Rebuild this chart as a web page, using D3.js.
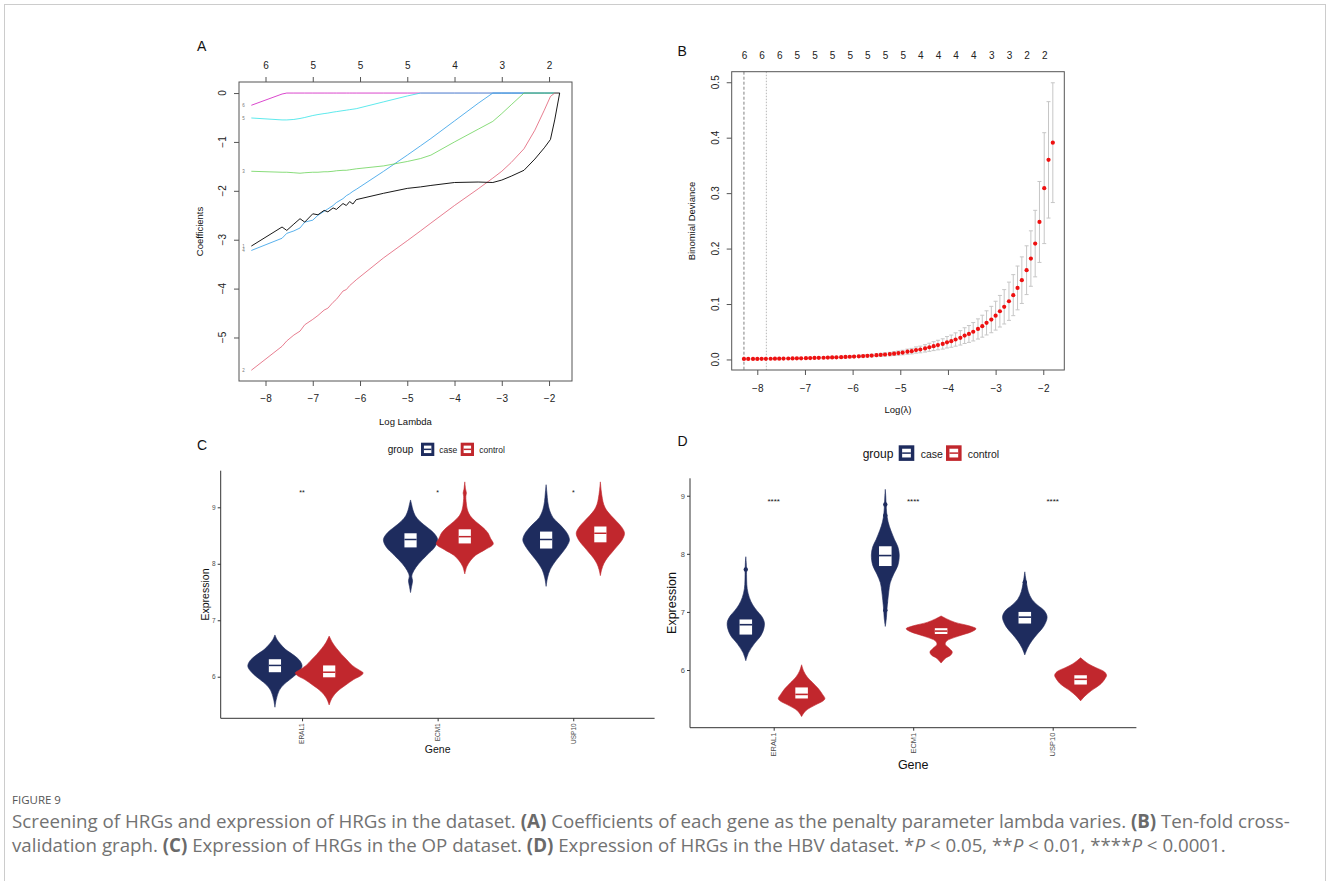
<!DOCTYPE html>
<meta charset="utf-8">
<script src="https://d3js.org/d3.v7.min.js"></script>
<style>body{margin:0;background:#fff}</style>
<svg id="fig" width="1328" height="881"></svg>
<script>
// ---------- panel A: coefficient paths ----------
const logLambdaA = [-8.30, -7.65, -7.55, -7.40, -7.27, -7.17, -7.00, -6.89, -6.76, -6.68, -6.57, -6.50,
  -6.36, -6.29, -6.22, -6.15, -6.08, -5.50, -5.00, -4.72, -4.50, -4.00, -3.50, -3.19, -3.00, -2.80,
  -2.53, -2.30, -2.10, -1.97, -1.88, -1.775];
const coef1 = [-3.13, -2.74, -2.81, -2.68, -2.57, -2.64, -2.47, -2.49, -2.40, -2.43, -2.35, -2.38,
  -2.26, -2.30, -2.22, -2.27, -2.18, -2.05, -1.95, -1.92, -1.89, -1.83, -1.82, -1.83, -1.78, -1.70,
  -1.58, -1.35, -1.12, -0.95, -0.55, 0];
const coef2 = [-5.67, -5.18, -5.07, -4.95, -4.87, -4.74, -4.63, -4.55, -4.44, -4.40, -4.28, -4.22,
  -4.05, -4.02, -3.94, -3.88, -3.82, -3.37, -3.02, -2.82, -2.66, -2.30, -1.96, -1.74, -1.60, -1.42,
  -1.14, -0.76, -0.35, -0.07, 0, 0];
const coef3 = [-1.60, -1.62, -1.62, -1.63, -1.64, -1.63, -1.62, -1.62, -1.61, -1.61, -1.60, -1.59,
  -1.58, -1.58, -1.57, -1.56, -1.55, -1.49, -1.40, -1.34, -1.27, -1.00, -0.74, -0.58, -0.42, -0.24,
  0, 0, 0, 0, 0, 0];
const coef4 = [-3.22, -2.97, -2.87, -2.82, -2.76, -2.64, -2.60, -2.50, -2.42, -2.37, -2.30, -2.24,
  -2.16, -2.10, -2.06, -2.01, -1.97, -1.60, -1.27, -1.08, -0.93, -0.57, -0.21, 0, 0, 0,
  0, 0, 0, 0, 0, 0];
const coef5 = [-0.51, -0.55, -0.55, -0.54, -0.52, -0.50, -0.46, -0.44, -0.42, -0.41, -0.39, -0.38,
  -0.36, -0.35, -0.34, -0.33, -0.32, -0.18, -0.06, 0, 0, 0, 0, 0, 0, 0,
  0, 0, 0, 0, 0, 0];
const coef6 = [-0.25, -0.02, 0, 0, 0, 0, 0, 0, 0, 0, 0, 0,
  0, 0, 0, 0, 0, 0, 0, 0, 0, 0, 0, 0, 0, 0,
  0, 0, 0, 0, 0, 0];
const ticksA = [-8, -7, -6, -5, -4, -3, -2];
const topA = ["6", "5", "5", "5", "4", "3", "2"];
const yTicksA = [0, -1, -2, -3, -4, -5];

// ---------- panel B: cross-validation ----------
const logLambdaB = [-8.28, -8.19, -8.09, -8.00, -7.91, -7.82, -7.72, -7.63, -7.54, -7.45, -7.35,
  -7.26, -7.17, -7.08, -6.98, -6.89, -6.80, -6.71, -6.61, -6.52, -6.43, -6.34, -6.24, -6.15, -6.06,
  -5.97, -5.87, -5.78, -5.69, -5.60, -5.50, -5.41, -5.32, -5.22, -5.13, -5.04, -4.95, -4.85, -4.76,
  -4.67, -4.58, -4.48, -4.39, -4.30, -4.21, -4.11, -4.02, -3.93, -3.84, -3.74, -3.65, -3.56, -3.47,
  -3.37, -3.28, -3.19, -3.09, -3.00, -2.91, -2.82, -2.72, -2.63, -2.54, -2.45, -2.35, -2.26, -2.17,
  -2.08, -1.98, -1.89, -1.80];
const devB = [0.0009, 0.0009, 0.0010, 0.0010, 0.0011, 0.0012, 0.0013, 0.0014, 0.0015, 0.0016, 0.0017,
  0.0018, 0.0020, 0.0021, 0.0023, 0.0025, 0.0027, 0.0029, 0.0031, 0.0034, 0.0036, 0.0039, 0.0042,
  0.0045, 0.0049, 0.0053, 0.0057, 0.0061, 0.0066, 0.0071, 0.0077, 0.0083, 0.0090, 0.0097, 0.0105,
  0.0115, 0.0125, 0.014, 0.015, 0.017, 0.018, 0.020, 0.022, 0.024, 0.026, 0.028, 0.031, 0.033, 0.036,
  0.039, 0.043, 0.046, 0.050, 0.055, 0.060, 0.066, 0.072, 0.079, 0.087, 0.095, 0.105, 0.116, 0.129,
  0.143, 0.161, 0.182, 0.209, 0.248, 0.309, 0.360, 0.391];
const seB = [0.0003, 0.0003, 0.0003, 0.0003, 0.0004, 0.0004, 0.0004, 0.0005, 0.0005, 0.0005, 0.0006,
  0.0006, 0.0007, 0.0007, 0.0008, 0.0008, 0.0009, 0.0010, 0.0010, 0.0011, 0.0012,
  0.0013, 0.0014, 0.0015, 0.0016, 0.0018, 0.0019, 0.0020, 0.0022, 0.0024, 0.0026,
  0.0028, 0.0030, 0.0032, 0.0035, 0.0038, 0.0041, 0.0046, 0.0050, 0.0056, 0.0060,
  0.0066, 0.0073, 0.0080, 0.0086, 0.0093, 0.0103, 0.0110, 0.0120, 0.0130, 0.0142,
  0.0152, 0.0166, 0.0182, 0.0198, 0.0218, 0.0238, 0.0260, 0.0285, 0.0310, 0.0345,
  0.0370, 0.0395, 0.0420, 0.0440, 0.0500, 0.0600, 0.0730, 0.1000, 0.1050, 0.1080];
const nzB = ["6", "6", "6", "5", "5", "5", "5", "5", "5", "5", "4", "4", "4", "4", "3", "3", "2", "2"];
const nzAtB = [-8.28, -7.91, -7.54, -7.17, -6.80, -6.43, -6.06, -5.69, -5.32, -4.95, -4.58, -4.21,
  -3.84, -3.47, -3.09, -2.72, -2.35, -1.98];
const lambdaMin = -8.28, lambda1se = -7.81;
const ticksB = [-8, -7, -6, -5, -4, -3, -2];
const yTicksB = [0, 0.1, 0.2, 0.3, 0.4, 0.5];

// ---------- panels C, D: violins ----------
const genes = ["ERAL1", "ECM1", "USP10"];
const groups = ["case", "control"];
// density profiles: [expression, half width]
const densC_case = [
  [[5.46,0],[5.6,0.01],[5.75,0.03],[5.85,0.06],[5.95,0.11],[6.05,0.16],[6.15,0.195],[6.2,0.2],[6.28,0.185],[6.38,0.14],[6.48,0.08],[6.58,0.04],[6.66,0.015],[6.74,0]],
  [[7.49,0],[7.6,0.008],[7.7,0.015],[7.78,0.009],[7.88,0.025],[8.0,0.06],[8.15,0.12],[8.3,0.18],[8.43,0.2],[8.55,0.17],[8.65,0.12],[8.75,0.07],[8.85,0.035],[8.95,0.018],[9.05,0.008],[9.13,0]],
  [[7.6,0],[7.75,0.01],[7.9,0.03],[8.05,0.07],[8.2,0.12],[8.32,0.155],[8.42,0.172],[8.52,0.16],[8.62,0.13],[8.72,0.09],[8.82,0.05],[8.95,0.025],[9.1,0.012],[9.25,0.006],[9.4,0]]
];
const densC_control = [
  [[5.5,0],[5.62,0.02],[5.74,0.06],[5.85,0.12],[5.95,0.18],[6.03,0.24],[6.07,0.25],[6.12,0.22],[6.2,0.17],[6.3,0.13],[6.4,0.09],[6.5,0.055],[6.6,0.025],[6.72,0]],
  [[7.82,0],[7.95,0.015],[8.05,0.04],[8.15,0.08],[8.25,0.15],[8.35,0.21],[8.45,0.19],[8.55,0.17],[8.65,0.13],[8.75,0.08],[8.85,0.04],[8.95,0.02],[9.1,0.01],[9.2,0.008],[9.25,0.012],[9.32,0.006],[9.45,0]],
  [[7.79,0],[7.9,0.01],[8.0,0.025],[8.1,0.05],[8.2,0.085],[8.3,0.12],[8.42,0.16],[8.54,0.178],[8.64,0.16],[8.75,0.12],[8.85,0.08],[8.95,0.045],[9.05,0.025],[9.15,0.015],[9.3,0.006],[9.45,0]]
];
const densD_case = [
  [[6.16,0],[6.3,0.02],[6.45,0.06],[6.6,0.11],[6.72,0.13],[6.82,0.133],[6.92,0.115],[7.02,0.08],[7.12,0.05],[7.25,0.025],[7.4,0.01],[7.55,0.006],[7.73,0.005],[7.85,0.003],[7.95,0]],
  [[6.75,0],[6.9,0.008],[7.05,0.012],[7.2,0.018],[7.35,0.025],[7.5,0.035],[7.65,0.06],[7.8,0.09],[7.98,0.1],[8.12,0.09],[8.25,0.065],[8.4,0.04],[8.55,0.02],[8.7,0.01],[8.85,0.006],[9.0,0.003],[9.11,0]],
  [[6.26,0],[6.38,0.02],[6.5,0.05],[6.62,0.09],[6.75,0.135],[6.91,0.16],[7.02,0.14],[7.12,0.09],[7.22,0.05],[7.35,0.025],[7.5,0.012],[7.6,0.005],[7.69,0]]
];
const densD_control = [
  [[5.2,0],[5.3,0.03],[5.4,0.1],[5.47,0.155],[5.51,0.167],[5.58,0.15],[5.68,0.12],[5.78,0.08],[5.88,0.04],[5.98,0.015],[6.09,0]],
  [[6.12,0],[6.2,0.03],[6.26,0.07],[6.31,0.08],[6.37,0.06],[6.44,0.03],[6.5,0.04],[6.58,0.12],[6.66,0.22],[6.71,0.25],[6.76,0.2],[6.82,0.1],[6.88,0.04],[6.93,0]],
  [[5.47,0],[5.55,0.03],[5.65,0.08],[5.75,0.14],[5.85,0.175],[5.91,0.186],[5.97,0.17],[6.04,0.11],[6.1,0.06],[6.16,0.025],[6.21,0]]
];
// boxes: [q1, median, q3]
const boxC_case = [[6.08, 6.20, 6.31], [8.29, 8.43, 8.54], [8.27, 8.43, 8.57]];
const boxC_control = [[5.99, 6.08, 6.20], [8.36, 8.48, 8.61], [8.38, 8.54, 8.66]];
const boxD_case = [[6.61, 6.78, 6.87], [7.79, 7.97, 8.13], [6.80, 6.91, 7.00]];
const boxD_control = [[5.51, 5.58, 5.70], [6.62, 6.67, 6.72], [5.75, 5.84, 5.91]];
const outD_case = [[7.73], [8.85, 8.66, 7.16, 7.03], [7.51]];
const outD_control = [[], [], []];
const outC_case = [[], [], []];
const outC_control = [[], [], []];
const sigC = ["**", "*", "*"], sigYC = 9.30;
const sigD = ["****", "****", "****"], sigYD = 8.94;
const yTicksCD = [6, 7, 8, 9];

const pathColors = ["#000000", "#DF536B", "#61D04F", "#2297E6", "#28E2E5", "#CD0BBC"];
const groupColors = ["#1e2c5e", "#c1272d"];
const FONT = "'Liberation Sans', Arial, sans-serif";

const svg = d3.select("#fig");
svg.append("rect").attr("x", 4.5).attr("y", 4.5).attr("width", 1321).attr("height", 900)
  .attr("fill", "none").attr("stroke", "#cccccc");

function label(g, txt, x, y, size, anchor) {
  return g.append("text").attr("x", x).attr("y", y).attr("font-size", size)
    .attr("text-anchor", anchor || "start").attr("fill", "#111").text(txt);
}
const fmtInt = d3.format("d");

// ================= Panel A =================
const xA = d3.scaleLinear().domain([-8.561, -1.514]).range([239, 572]);
const yA = d3.scaleLinear().domain([-5.89, 0.226]).range([381, 82]);
const gA = svg.append("g").attr("font-family", FONT);
const coefs = [coef1, coef2, coef3, coef4, coef5, coef6];
// draw order so black sits on top like R
[5, 4, 3, 2, 1, 0].forEach(i => {
  gA.append("path").datum(coefs[i])
    .attr("d", d3.line().x((d, j) => xA(logLambdaA[j])).y(d => yA(d)))
    .attr("fill", "none").attr("stroke", pathColors[i]).attr("stroke-width", 1)
    .attr("stroke-opacity", i === 0 ? 0.9 : 0.75);
});
gA.append("rect").attr("x", 239).attr("y", 82).attr("width", 333).attr("height", 299)
  .attr("fill", "none").attr("stroke", "#555");
coefs.forEach((c, i) => {
  gA.append("text").attr("x", 243.5).attr("y", yA(c[0])).attr("dy", "0.35em")
    .attr("font-size", 4.5).attr("fill", "#777").attr("text-anchor", "middle").text(i + 1);
});
function rAxis(sel) {
  sel.select(".domain").remove();
  sel.selectAll(".tick line").attr("stroke", "#555");
  sel.selectAll(".tick text").attr("font-size", 10).attr("fill", "#222").attr("font-family", FONT);
}
gA.append("g").attr("transform", "translate(0,381)")
  .call(d3.axisBottom(xA).tickValues(ticksA).tickSize(5).tickPadding(9).tickFormat(fmtInt)).call(rAxis);
gA.append("g").attr("transform", "translate(0,82)")
  .call(d3.axisTop(xA).tickValues(ticksA).tickSize(5).tickPadding(8.5).tickFormat((d, i) => topA[i])).call(rAxis);
gA.append("g").attr("transform", "translate(239,0)")
  .call(d3.axisLeft(yA).tickValues(yTicksA).tickSize(5).tickFormat("")).call(rAxis);
gA.selectAll("text.yl").data(yTicksA).join("text")
  .attr("transform", d => `translate(222,${yA(d)}) rotate(-90)`)
  .attr("dy", "0.35em").attr("text-anchor", "middle").attr("font-size", 10).attr("fill", "#222")
  .text(d => fmtInt(d));
label(gA, "Log Lambda", 405.5, 425, 9.5, "middle");
gA.append("text").attr("transform", "translate(199.5,231.5) rotate(-90)").attr("dy", "0.35em")
  .attr("text-anchor", "middle").attr("font-size", 9.5).attr("fill", "#111").text("Coefficients");
label(gA, "A", 197, 51, 14);

// ================= Panel B =================
const xB = d3.scaleLinear().domain([-8.537, -1.559]).range([731.7, 1064.3]);
const yB = d3.scaleLinear().domain([-0.019, 0.519]).range([370, 71.7]);
const gB = svg.append("g").attr("font-family", FONT);
gB.append("line").attr("x1", xB(lambdaMin)).attr("x2", xB(lambdaMin)).attr("y1", 71.7).attr("y2", 370)
  .attr("stroke", "#808080").attr("stroke-dasharray", "3,2");
gB.append("line").attr("x1", xB(lambda1se)).attr("x2", xB(lambda1se)).attr("y1", 71.7).attr("y2", 370)
  .attr("stroke", "#b8b8b8").attr("stroke-dasharray", "1.5,1.5");
const eb = gB.append("g").attr("stroke", "#c6c6c6").attr("stroke-width", 1);
logLambdaB.forEach((l, k) => {
  const x = xB(l), lo = yB(devB[k] - seB[k]), hi = yB(devB[k] + seB[k]);
  eb.append("line").attr("x1", x).attr("x2", x).attr("y1", lo).attr("y2", hi);
  eb.append("line").attr("x1", x - 2).attr("x2", x + 2).attr("y1", lo).attr("y2", lo);
  eb.append("line").attr("x1", x - 2).attr("x2", x + 2).attr("y1", hi).attr("y2", hi);
});
gB.selectAll("circle.pt").data(devB).join("circle")
  .attr("cx", (d, k) => xB(logLambdaB[k])).attr("cy", d => yB(d)).attr("r", 2.1).attr("fill", "#ee1111");
gB.append("rect").attr("x", 731.7).attr("y", 71.7).attr("width", 332.6).attr("height", 298.3)
  .attr("fill", "none").attr("stroke", "#555");
gB.append("g").attr("transform", "translate(0,370)")
  .call(d3.axisBottom(xB).tickValues(ticksB).tickSize(5).tickPadding(9.4).tickFormat(fmtInt)).call(rAxis);
gB.append("g").attr("transform", "translate(0,71.7)")
  .call(d3.axisTop(xB).tickValues(nzAtB).tickSize(0).tickPadding(13.2).tickFormat((d, i) => nzB[i])).call(rAxis);
gB.append("g").attr("transform", "translate(731.7,0)")
  .call(d3.axisLeft(yB).tickValues(yTicksB).tickSize(5).tickFormat("")).call(rAxis);
gB.selectAll("text.yl").data(yTicksB).join("text")
  .attr("transform", d => `translate(715,${yB(d)}) rotate(-90)`)
  .attr("dy", "0.35em").attr("text-anchor", "middle").attr("font-size", 10).attr("fill", "#222")
  .text(d => d3.format(".1f")(d));
label(gB, "Log(λ)", 898, 412.5, 9.5, "middle");
gB.append("text").attr("transform", "translate(691.7,221) rotate(-90)").attr("dy", "0.35em")
  .attr("text-anchor", "middle").attr("font-size", 9.5).attr("fill", "#111").text("Binomial Deviance");
label(gB, "B", 677.5, 56, 14);

// ================= Panels C, D =================
function violinPanel(o) {
  const g = svg.append("g").attr("font-family", FONT);
  const x = d3.scaleLinear().domain([0.4, 3.6]).range([o.left, o.right]);
  const y = d3.scaleLinear().domain(o.yDomain).range([o.bottom, o.top]);
  const area = d3.area().curve(d3.curveCatmullRom.alpha(0.5));
  groups.forEach((grp, gi) => {
    const col = groupColors[gi];
    genes.forEach((gene, i) => {
      const cx = i + 1 + (gi === 0 ? -0.2 : 0.2);
      g.append("path").datum(o.dens[gi][i])
        .attr("d", area.y(d => y(d[0])).x0(d => x(cx - d[1])).x1(d => x(cx + d[1])))
        .attr("fill", col).attr("stroke", col).attr("stroke-width", 0.6);
      const b = o.box[gi][i], bw = 0.045;
      g.append("rect").attr("x", x(cx - bw)).attr("width", x(cx + bw) - x(cx - bw))
        .attr("y", y(b[2])).attr("height", y(b[0]) - y(b[2])).attr("fill", "#fff");
      g.append("line").attr("x1", x(cx - bw)).attr("x2", x(cx + bw)).attr("y1", y(b[1])).attr("y2", y(b[1]))
        .attr("stroke", col).attr("stroke-width", o.medW);
      o.out[gi][i].forEach(v => g.append("circle").attr("cx", x(cx)).attr("cy", y(v)).attr("r", o.outR).attr("fill", col));
    });
  });
  // significance
  genes.forEach((gene, i) => {
    g.append("text").attr("x", x(i + 1)).attr("y", y(o.sigY)).attr("dy", "0.6em")
      .attr("text-anchor", "middle").attr("font-size", o.sigSize).attr("fill", "#111").text(o.sig[i]);
  });
  // axes
  const ax = g.append("g").attr("transform", `translate(0,${o.bottom})`)
    .call(d3.axisBottom(x).tickValues([1, 2, 3]).tickSize(3).tickFormat(""));
  ax.select(".domain").attr("stroke", "#333").attr("stroke-width", 1).attr("d", `M${o.left},0H${o.right}`);
  ax.selectAll(".tick line").attr("stroke", "#333");
  const ay = g.append("g").attr("transform", `translate(${o.left},0)`)
    .call(d3.axisLeft(y).tickValues(yTicksCD).tickSize(3).tickPadding(2).tickFormat(fmtInt));
  ay.select(".domain").attr("stroke", "#333").attr("stroke-width", 1).attr("d", `M0,${o.top}V${o.bottom}`);
  ay.selectAll(".tick line").attr("stroke", "#333");
  ay.selectAll(".tick text").attr("font-size", o.tickSize).attr("fill", "#4d4d4d").attr("font-family", FONT);
  g.selectAll("text.xl").data(genes).join("text")
    .attr("transform", (d, i) => `translate(${x(i + 1)},${o.bottom + 5}) rotate(-90)`)
    .attr("dy", "0.35em").attr("text-anchor", "end").attr("font-size", o.tickSize).attr("fill", "#4d4d4d")
    .text(d => d);
  label(g, "Gene", (o.left + o.right) / 2, o.geneY, o.titleSize, "middle");
  g.append("text").attr("transform", `translate(${o.exprX},${(o.top + o.bottom) / 2}) rotate(-90)`)
    .attr("dy", "0.35em").attr("text-anchor", "middle").attr("font-size", o.titleSize).attr("fill", "#111")
    .text("Expression");
  // legend
  const L = o.legend;
  label(g, "group", L.groupX, L.baseY, L.groupSize);
  groups.forEach((grp, gi) => {
    const kx = L.keyX[gi], k = L.key;
    g.append("rect").attr("x", kx).attr("y", L.keyY).attr("width", k).attr("height", k).attr("fill", groupColors[gi]);
    g.append("rect").attr("x", kx + k * 0.22).attr("y", L.keyY + k * 0.22).attr("width", k * 0.56).attr("height", k * 0.56).attr("fill", "#fff");
    g.append("line").attr("x1", kx + k * 0.22).attr("x2", kx + k * 0.78).attr("y1", L.keyY + k / 2).attr("y2", L.keyY + k / 2)
      .attr("stroke", groupColors[gi]).attr("stroke-width", 1.5);
    label(g, grp, L.textX[gi], L.baseY, L.textSize).attr("fill", "#222");
  });
  label(g, o.letter, o.letterX, o.letterY, 14);
}

violinPanel({
  left: 220.7, right: 654.6, top: 470.7, bottom: 718.3, yDomain: [5.264, 9.648],
  dens: [densC_case, densC_control], box: [boxC_case, boxC_control], out: [outC_case, outC_control],
  sig: sigC, sigY: sigYC, sigSize: 7, tickSize: 6.5, titleSize: 10.5, medW: 1.5, outR: 1.8,
  geneY: 753, exprX: 205,
  legend: { groupX: 387.7, baseY: 452.5, groupSize: 10, key: 13.3, keyY: 442.7, keyX: [421, 460.7],
    textX: [439.3, 479.3], textSize: 8.5 },
  letter: "C", letterX: 197, letterY: 450
});
violinPanel({
  left: 690, right: 1136.4, top: 478.3, bottom: 727.7, yDomain: [5.007, 9.30],
  dens: [densD_case, densD_control], box: [boxD_case, boxD_control], out: [outD_case, outD_control],
  sig: sigD, sigY: sigYD, sigSize: 8, tickSize: 7.5, titleSize: 12.5, medW: 1.6, outR: 2.2,
  geneY: 769, exprX: 671.7,
  legend: { groupX: 862.7, baseY: 457.5, groupSize: 12, key: 15.6, keyY: 445.3, keyX: [898.7, 946],
    textX: [920.7, 967.7], textSize: 10.5 },
  letter: "D", letterX: 677.5, letterY: 446
});

// ================= Caption =================
const cap = svg.append("g").attr("font-family", "'Open Sans', 'Noto Sans', sans-serif").attr("fill", "#727272");
cap.append("text").attr("x", 12).attr("y", 804).attr("font-size", 11.5).attr("fill", "#555").text("FIGURE 9");
function capLine(y, parts, target) {
  const t = cap.append("text").attr("x", 12).attr("y", y).attr("font-size", 17);
  parts.forEach(p => {
    const s = t.append("tspan").text(p[0]);
    if (p[1] === "b") s.attr("font-weight", "bold").attr("fill", "#6a6a6a");
    if (p[1] === "i") s.attr("font-style", "italic");
  });
  const len = t.node().getComputedTextLength();
  t.attr("font-size", 17 * target / len);
}
capLine(828, [["Screening of HRGs and expression of HRGs in the dataset. "], ["(A)", "b"],
  [" Coefficients of each gene as the penalty parameter lambda varies. "], ["(B)", "b"], [" Ten-fold cross-"]], 1278);
capLine(852, [["validation graph. "], ["(C)", "b"], [" Expression of HRGs in the OP dataset. "], ["(D)", "b"],
  [" Expression of HRGs in the HBV dataset. *"], ["P", "i"], [" < 0.05, **"], ["P", "i"], [" < 0.01, ****"],
  ["P", "i"], [" < 0.0001."]], 1214);
</script>
